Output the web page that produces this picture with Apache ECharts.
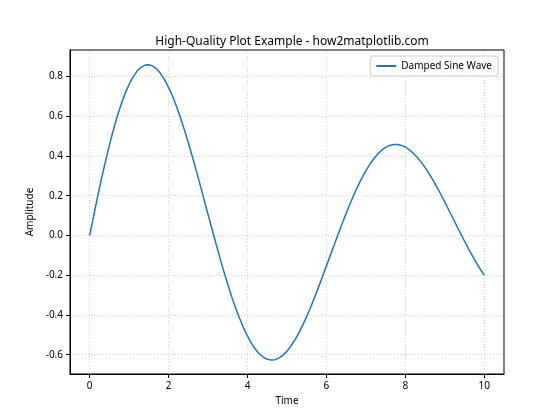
<!DOCTYPE html>
<html><head><meta charset="utf-8">
<script src="https://cdn.jsdelivr.net/npm/echarts@6/dist/echarts.min.js"></script>
<style>html,body{margin:0;padding:0;background:#fff}#c{width:560px;height:420px}</style>
</head><body><div id="c"></div>
<script>
const times = [0,0.1,0.2,0.3,0.4,0.5,0.6,0.7,0.8,0.9,
  1,1.1,1.2,1.3,1.4,1.5,1.6,1.7,1.8,1.9,
  2,2.1,2.2,2.3,2.4,2.5,2.6,2.7,2.8,2.9,
  3,3.1,3.2,3.3,3.4,3.5,3.6,3.7,3.8,3.9,
  4,4.1,4.2,4.3,4.4,4.5,4.6,4.7,4.8,4.9,
  5,5.1,5.2,5.3,5.4,5.5,5.6,5.7,5.8,5.9,
  6,6.1,6.2,6.3,6.4,6.5,6.6,6.7,6.8,6.9,
  7,7.1,7.2,7.3,7.4,7.5,7.6,7.7,7.8,7.9,
  8,8.1,8.2,8.3,8.4,8.5,8.6,8.7,8.8,8.9,
  9,9.1,9.2,9.3,9.4,9.5,9.6,9.7,9.8,9.9,10];
const amplitude = [0,0.099,0.195,0.287,0.374,0.456,0.532,0.601,0.662,0.716,
  0.761,0.798,0.827,0.846,0.857,0.859,0.852,0.837,0.813,0.783,
  0.744,0.700,0.649,0.592,0.531,0.466,0.397,0.326,0.253,0.179,
  0.105,0.031,-0.042,-0.113,-0.182,-0.247,-0.309,-0.366,-0.418,-0.466,
  -0.507,-0.543,-0.573,-0.596,-0.613,-0.623,-0.627,-0.625,-0.616,-0.602,
  -0.582,-0.556,-0.525,-0.490,-0.450,-0.407,-0.361,-0.311,-0.260,-0.207,
  -0.153,-0.099,-0.045,0.009,0.061,0.112,0.161,0.207,0.250,0.290,
  0.326,0.358,0.386,0.410,0.429,0.443,0.453,0.458,0.458,0.453,
  0.445,0.431,0.414,0.393,0.369,0.341,0.311,0.278,0.243,0.206,
  0.168,0.128,0.089,0.049,0.010,-0.029,-0.067,-0.103,-0.138,-0.170,-0.200];
const xTicks = [0,2,4,6,8,10];
const yTicks = [-0.6,-0.4,-0.2,0,0.2,0.4,0.6,0.8];
const seriesName = 'Damped Sine Wave';

const FONT = '"Noto Sans", "Open Sans", sans-serif';
const chart = echarts.init(document.getElementById('c'));
chart.setOption({
  animation:false,
  textStyle:{fontFamily:FONT},
  title:{text:'High-Quality Plot Example - how2matplotlib.com',left:287,top:31,textAlign:'center',
    textStyle:{fontFamily:FONT,fontSize:12,fontWeight:'normal',color:'#000'}},
  legend:{right:62,top:56,orient:'vertical',itemWidth:20,itemHeight:2,itemGap:4,
    padding:[5,6,5,6],borderColor:'#cccccc',borderWidth:1,borderRadius:3,backgroundColor:'rgba(255,255,255,0.8)',
    icon:'rect',textStyle:{fontFamily:FONT,fontSize:10,color:'#000'},data:[seriesName]},
  grid:{left:70,right:56,top:50,bottom:46,containLabel:false,show:false},
  xAxis:{type:'value',min:-0.5,max:10.5,name:'Time',nameLocation:'middle',nameGap:22,
    nameTextStyle:{fontFamily:FONT,fontSize:10,color:'#000'},
    axisLine:{show:true,onZero:false,lineStyle:{color:'#000',width:1}},
    axisTick:{show:true,length:4,inside:false,customValues:xTicks,lineStyle:{color:'#000'}},
    axisLabel:{customValues:xTicks,fontFamily:FONT,fontSize:10,color:'#000',margin:7},
    splitLine:{show:true,lineStyle:{color:'#d0d0d0',type:[1,2],width:0.8}}},
  yAxis:{type:'value',min:-0.697,max:0.933,name:'Amplitude',nameLocation:'middle',nameGap:32,
    nameTextStyle:{fontFamily:FONT,fontSize:10,color:'#000'},
    axisLine:{show:true,onZero:false,lineStyle:{color:'#000',width:1}},
    axisTick:{show:true,length:4,customValues:yTicks,lineStyle:{color:'#000'}},
    axisLabel:{customValues:yTicks,fontFamily:FONT,fontSize:10,color:'#000',margin:7,
      formatter:v=>v.toFixed(1)},
    splitLine:{show:true,lineStyle:{color:'#d0d0d0',type:[1,2],width:0.8}}},
  series:[{name:seriesName,type:'line',data:times.map((t,i)=>[t,amplitude[i]]),
    smooth:false,showSymbol:false,lineStyle:{color:'#1f77b4',width:1.5},itemStyle:{color:'#1f77b4'}}],
  graphic:[{type:'rect',shape:{x:70,y:50,width:434,height:324},style:{fill:'none',stroke:'#000',lineWidth:1},z:10,silent:true}]
});
</script></body></html>
